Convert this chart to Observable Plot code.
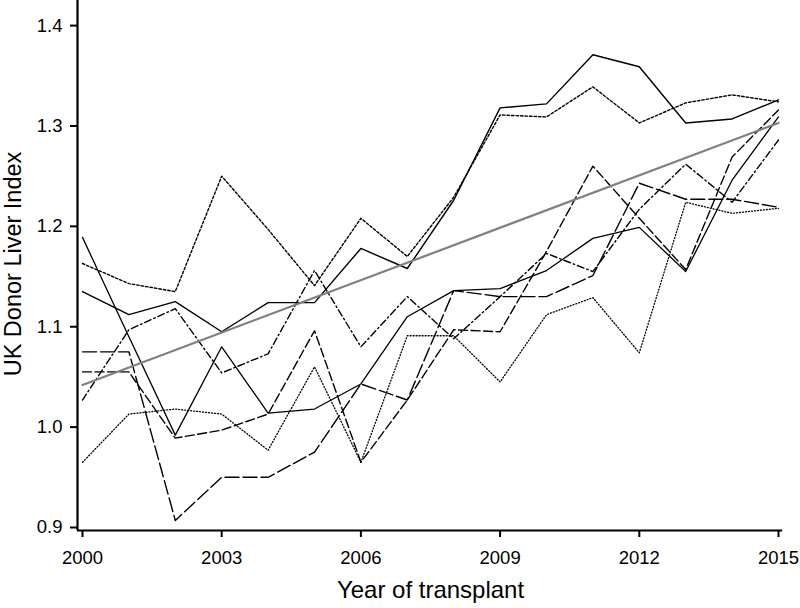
<!DOCTYPE html>
<html>
<head>
<meta charset="utf-8">
<script src="https://cdn.jsdelivr.net/npm/d3@7"></script>
<script src="https://cdn.jsdelivr.net/npm/@observablehq/plot@0.6"></script>
<style>
  html, body { margin: 0; padding: 0; background: #fff; }
  #chart { width: 800px; height: 608px; }
</style>
</head>
<body>
<div id="chart"></div>
<script>
const years = [2000,2001,2002,2003,2004,2005,2006,2007,2008,2009,2010,2011,2012,2013,2014,2015];

const centreA = [1.135,1.112,1.125,1.095,1.124,1.124,1.178,1.158,1.226,1.318,1.322,1.371,1.359,1.303,1.307,1.326];
const centreB = [1.163,1.143,1.135,1.250,1.197,1.141,1.208,1.170,1.229,1.311,1.309,1.339,1.303,1.323,1.331,1.324];
const centreC = [1.189,1.090,0.992,1.080,1.014,1.018,1.043,1.110,1.136,1.138,1.156,1.188,1.199,1.155,1.246,1.309];
const centreD = [1.075,1.075,0.907,0.950,0.950,0.975,1.043,1.027,1.136,1.130,1.130,1.151,1.243,1.227,1.227,1.219];
const centreE = [1.055,1.055,0.989,0.997,1.013,1.096,0.965,1.027,1.097,1.095,1.175,1.260,1.208,1.157,1.269,1.316];
const centreF = [1.027,1.097,1.118,1.054,1.073,1.156,1.080,1.130,1.088,1.130,1.173,1.155,1.217,1.262,1.224,1.286];
const centreG = [0.965,1.013,1.018,1.013,0.977,1.060,0.965,1.091,1.091,1.045,1.112,1.129,1.074,1.224,1.213,1.218];

const trendYears = [2000, 2015];
const trendValues = [1.042, 1.303];

const xTicks = [2000, 2003, 2006, 2009, 2012, 2015];
const yTicks = [0.9, 1.0, 1.1, 1.2, 1.3, 1.4];

const seriesList = [
  {values: centreA, dash: null, width: 1.4},
  {values: centreB, dash: "2.5,2", width: 1.4},
  {values: centreC, dash: null, width: 1.3},
  {values: centreD, dash: "14,4", width: 1.4},
  {values: centreE, dash: "9,3.5", width: 1.4},
  {values: centreF, dash: "7,3,1.5,3", width: 1.4},
  {values: centreG, dash: "1,2", width: 1.3}
];

const lineMarks = seriesList.map(s => {
  const rows = years.map((y, i) => ({year: y, value: s.values[i]}));
  const opts = {x: "year", y: "value", stroke: "#000", strokeWidth: s.width};
  if (s.dash) opts.strokeDasharray = s.dash;
  return Plot.line(rows, opts);
});

const trendRows = trendYears.map((y, i) => ({year: y, value: trendValues[i]}));

const chart = Plot.plot({
  width: 800,
  height: 608,
  marginLeft: 82,
  marginRight: 22,
  marginTop: 0,
  marginBottom: 81,
  style: {fontFamily: "'Liberation Sans', Arial, Helvetica, sans-serif", fontSize: "18.5px", background: "#fff", color: "#000"},
  x: {domain: [2000, 2015]},
  y: {domain: [0.9, 1.425]},
  marks: [
    ...lineMarks,
    Plot.line(trendRows, {x: "year", y: "value", stroke: "#808080", strokeWidth: 2.2}),
    // axis lines
    Plot.ruleY([0.9], {x1: 1999.89, x2: 2015.09, dy: 3, stroke: "#000", strokeWidth: 2.2}),
    Plot.ruleX([2000], {y1: 0.897, y2: 1.425, dx: -5, stroke: "#000", strokeWidth: 2.2}),
    Plot.axisX({ticks: xTicks, tickFormat: d => String(d), tickSize: 7, tickPadding: 13, dy: 3, label: null, strokeWidth: 2}),
    Plot.axisY({ticks: yTicks, tickFormat: d => d.toFixed(1), tickSize: 7, tickPadding: 8, dx: -5, label: null, strokeWidth: 2}),
    Plot.text(["Year of transplant"], {frameAnchor: "bottom", dy: 70, fontSize: 24, fill: "#000", textAnchor: "middle"}),
    Plot.text(["UK Donor Liver Index"], {frameAnchor: "left", rotate: -90, dx: -69, fontSize: 23.5, fill: "#000", textAnchor: "middle"})
  ]
});

document.getElementById("chart").appendChild(chart);
</script>
</body>
</html>
